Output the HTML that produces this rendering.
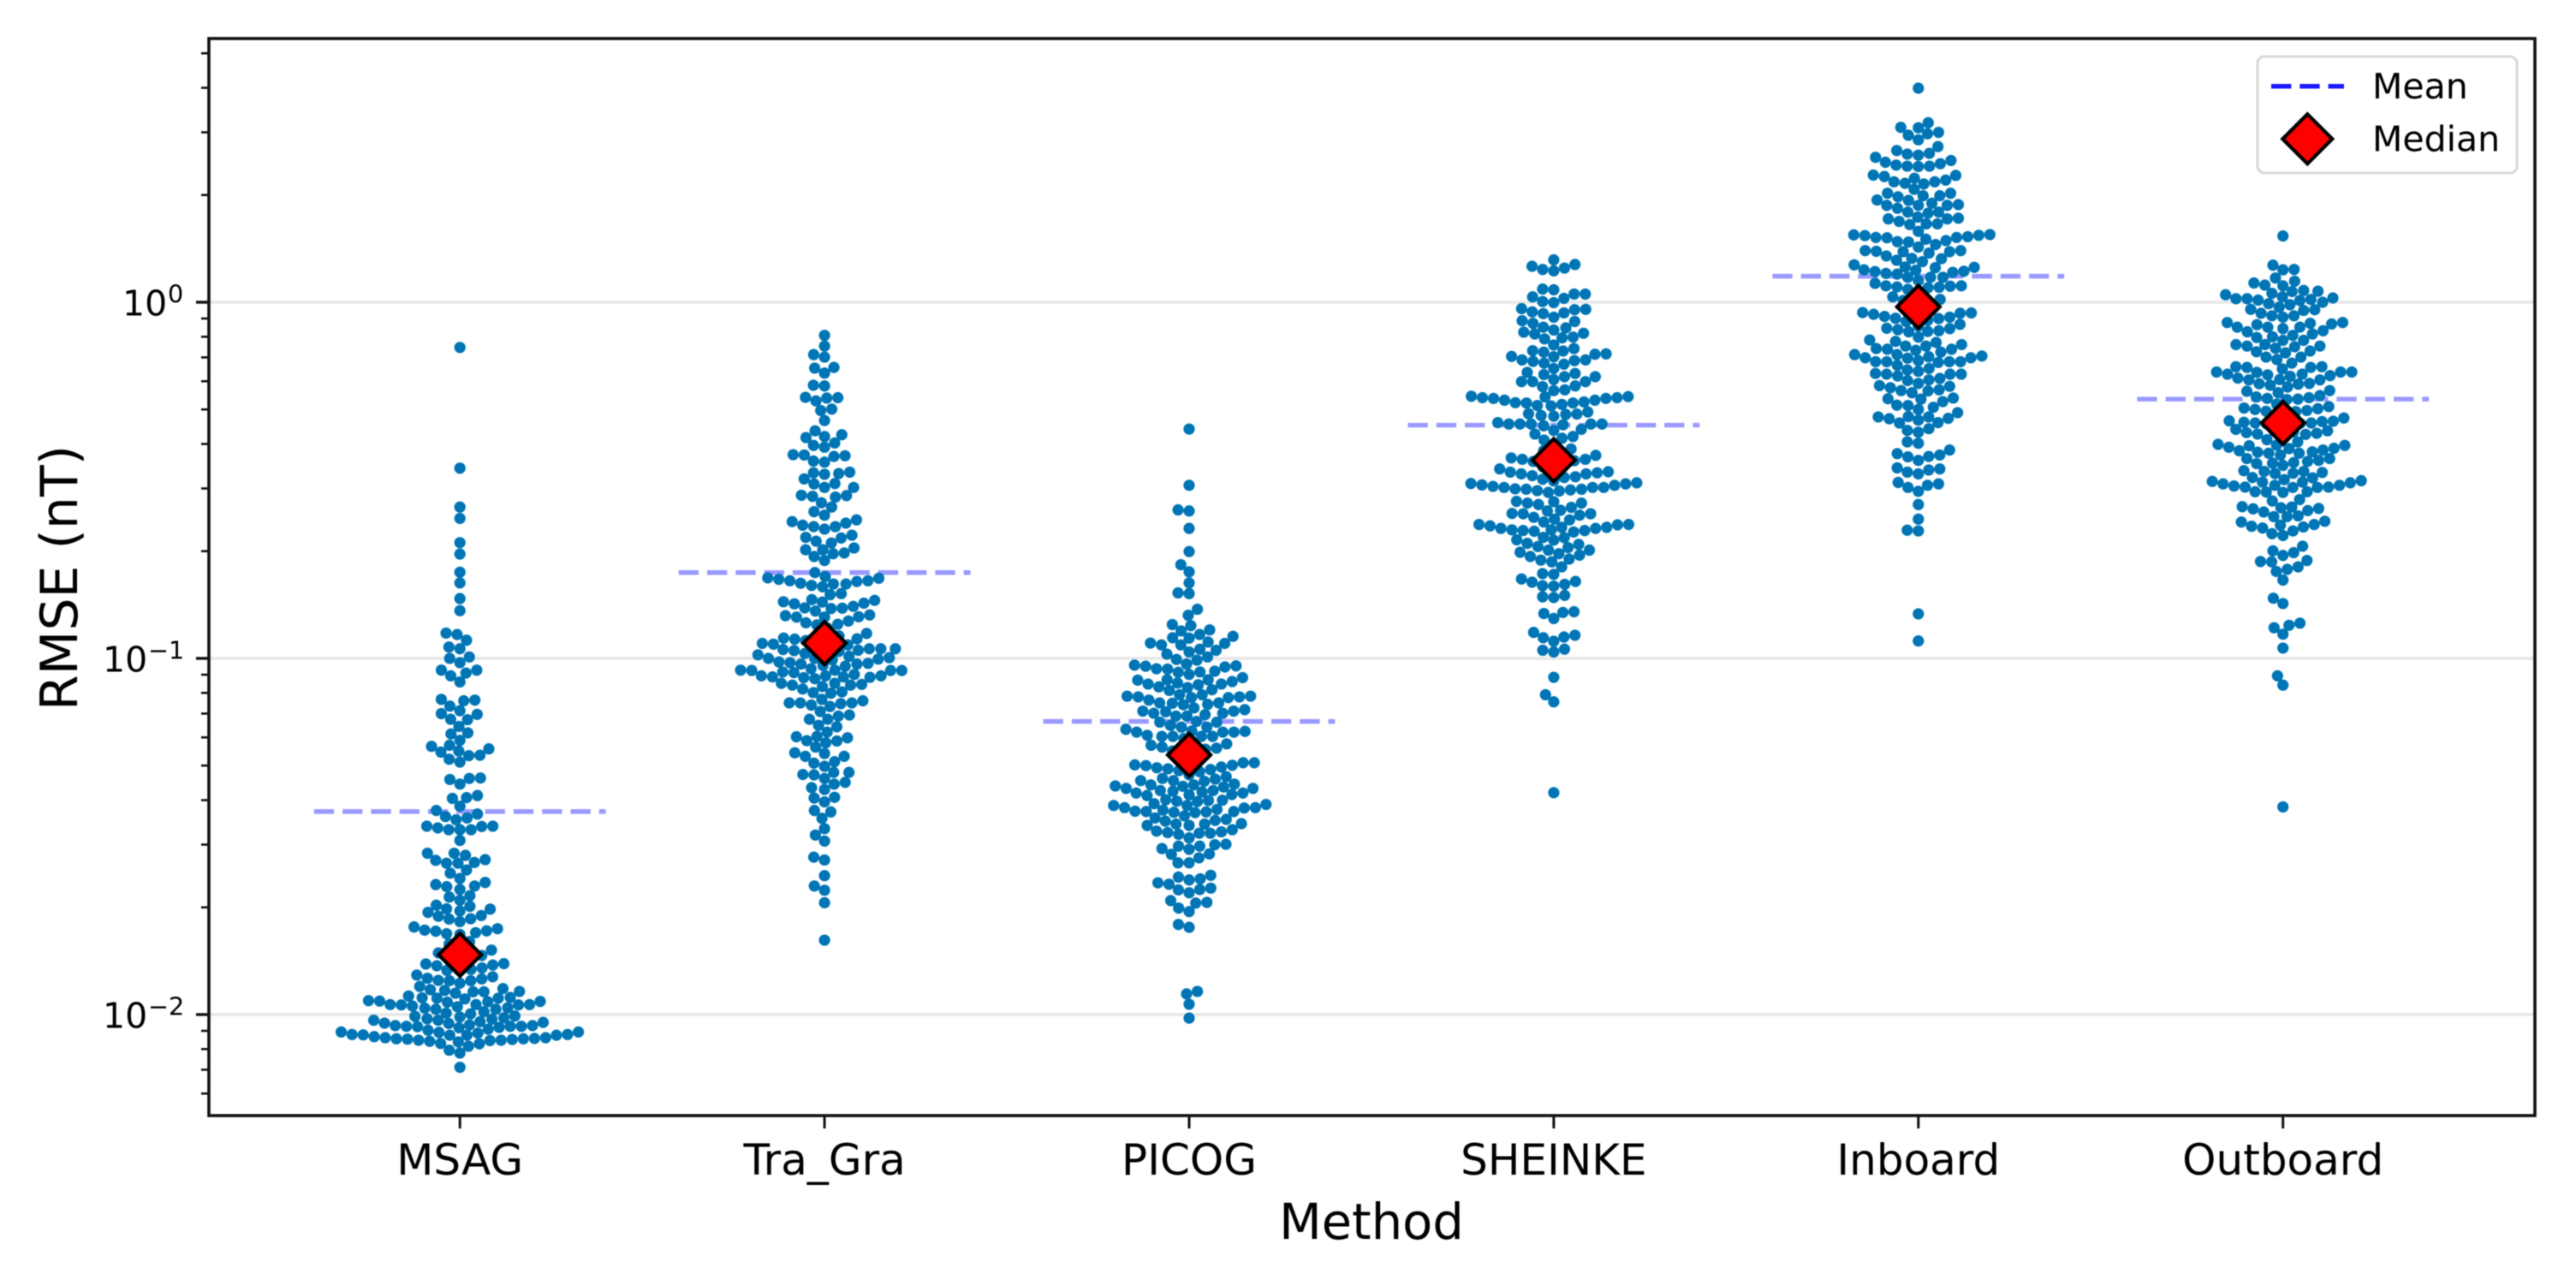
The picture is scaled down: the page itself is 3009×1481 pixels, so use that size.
<!DOCTYPE html>
<html lang="en">
<head>
<meta charset="utf-8">
<title>RMSE by Method swarm plot</title>
<style>
html,body{margin:0;padding:0;background:#fff;overflow:hidden;}
svg{display:block;filter:blur(0.6px);}
text{font-family:"DejaVu Sans","Liberation Sans",sans-serif;fill:#000;}
</style>
</head>
<body>
<svg id="chart" xmlns="http://www.w3.org/2000/svg" width="3009" height="1481" viewBox="0 0 3009 1481">
<rect x="0" y="0" width="3009" height="1481" fill="#fff"/>
<g id="grid"></g>
<g id="means"></g>
<g id="swarms"></g>
<g id="medians"></g>
<rect x="244" y="45" width="2717" height="1258" fill="none" stroke="#111" stroke-width="3.6"/>
<g id="yticks"></g>
<g id="xticks"></g>
<text x="1602" y="1447" font-size="57.5" text-anchor="middle">Method</text>
<text transform="translate(90 675) rotate(-90)" font-size="60" text-anchor="middle">RMSE (nT)</text>
<g>
<rect x="2637" y="66" width="303" height="136" rx="8" ry="8" fill="#fff" fill-opacity="0.8" stroke="#d8d8d8" stroke-width="3"/>
<line x1="2653" y1="100.7" x2="2738" y2="100.7" stroke="#1a1aff" stroke-width="5.5" stroke-dasharray="23.3 10"/>
<text x="2771" y="115" font-size="41">Mean</text>
<path d="M2695.3 133.3 L2724.3 162.3 L2695.3 191.3 L2666.3 162.3 Z" fill="#ff0000" stroke="#000" stroke-width="4.2" stroke-linejoin="miter"/>
<text x="2771" y="176.7" font-size="41">Median</text>
</g>
</svg>
<script>
// All series are log10(RMSE in nT).
const methods = ["MSAG", "Tra_Gra", "PICOG", "SHEINKE", "Inboard", "Outboard"];
const yMajorExponents = [0, -1, -2];
const yMinorMultipliers = [2, 3, 4, 5, 6, 7, 8, 9];
const meanLog10 = [-1.430, -0.759, -1.177, -0.345, 0.073, -0.272];
const medianLog10 = [-1.832, -0.957, -1.271, -0.4435, -0.013, -0.339];

const msagLog10 = [-0.127,-0.466,-0.575,-0.607,-0.675,-0.707,-0.758,-0.788,-0.832,-0.866,-0.929,-0.933,-0.949,-0.968,-0.973,-0.996,-1.000,-1.012,
-1.033,-1.033,-1.041,-1.049,-1.066,-1.115,-1.119,-1.117,-1.134,-1.147,-1.155,-1.157,-1.171,-1.172,-1.191,-1.212,-1.209,-1.230,-1.244,-1.247,-1.254,-1.260,-1.263,-1.272,-1.273,-1.283,-1.291,
-1.336,-1.337,-1.340,-1.353,-1.393,-1.391,-1.385,-1.415,-1.427,-1.437,-1.448,-1.444,-1.453,-1.471,-1.472,-1.481,-1.481,-1.481,-1.476,-1.471,-1.511,
-1.547,-1.547,-1.553,-1.567,-1.575,-1.575,-1.573,-1.565,-1.594,-1.603,-1.618,-1.629,-1.635,-1.641,-1.639,-1.649,-1.666,-1.670,-1.679,-1.693,-1.696,
-1.703,-1.704,-1.709,-1.722,-1.713,-1.724,-1.732,-1.731,-1.739,-1.754,-1.763,-1.766,-1.770,-1.759,-1.765,-1.773,-1.775,-1.802,-1.819,-1.835,-1.835,-1.834,
-1.857,-1.861,-1.858,-1.863,-1.869,-1.873,-1.876,-1.876,-1.795,-1.810,-1.827,-1.843,
-1.894,-1.889,-1.898,-1.900,-1.904,-1.905,-1.905,-1.912,-1.921,-1.932,-1.930,-1.927,-1.936,-1.936,-1.935,-1.940,-1.948,-1.954,-1.954,-1.952,-1.953,-1.956,-1.962,-1.961,-1.963,-1.964,-1.965,
-1.972,-1.972,-1.976,-1.973,-1.973,-1.972,-1.978,-1.981,-1.982,-1.985,-1.985,-1.996,-1.998,-1.992,-2.005,-2.004,-2.007,-2.009,-2.012,-2.013,-2.016,-2.016,-2.024,-2.020,-2.022,-2.025,
-2.031,-2.029,-2.033,-2.033,-2.034,-2.033,-2.036,-2.031,-2.037,-2.044,-2.041,-2.050,-2.052,-2.049,-2.049,-2.056,-2.056,-2.058,-2.058,-2.058,-2.057,-2.062,-2.065,-2.065,-2.067,-2.068,-2.068,
-2.070,-2.072,-2.072,-2.073,-2.069,-2.075,-2.081,-2.077,-2.082,-2.089,-2.100,-2.108,-2.148];

const traGraLog10 = [-0.093,-0.123,-0.147,-0.154,-0.185,-0.183,-0.199,-0.233,-0.235,-0.267,-0.269,-0.268,-0.277,-0.304,-0.300,-0.332,-0.361,-0.372,-0.377,-0.380,-0.395,-0.407,-0.402,
-0.428,-0.429,-0.433,-0.431,-0.446,-0.449,-0.477,-0.481,-0.483,-0.479,-0.496,-0.509,-0.510,-0.520,-0.520,-0.542,-0.545,-0.547,-0.543,-0.563,-0.575,-0.588,-0.598,
-0.616,-0.626,-0.630,-0.637,-0.630,-0.620,-0.611,-0.660,-0.654,-0.662,-0.671,-0.676,-0.695,-0.695,-0.690,-0.714,-0.706,-0.704,-0.725,-0.759,-0.770,
-0.778,-0.782,-0.789,-0.791,-0.799,-0.774,-0.775,-0.782,-0.784,-0.791,-0.795,-0.821,-0.818,-0.841,-0.854,-0.860,-0.845,-0.858,-0.847,-0.837,-0.842,-0.835,-0.859,-0.867,
-0.883,-0.884,-0.878,-0.880,-0.884,-0.900,-0.906,-0.895,-0.904,
-0.937,-0.941,-0.946,-0.943,-0.958,-0.958,-0.962,-0.965,-0.950,-0.973,-0.973,-0.973,-0.977,-0.978,-0.986,-0.982,-0.980,-0.994,-1.000,-0.998,-1.004,-1.010,-1.016,-1.016,-1.014,-1.020,-1.022,-1.002,
-0.915,-0.930,-0.945,-0.960,-0.975,-0.990,-1.000,-1.012,
-1.033,-1.033,-1.034,-1.034,-1.034,-1.038,-1.029,-1.040,-1.045,-1.049,-1.049,-1.049,-1.052,-1.052,-1.054,-1.057,-1.053,-1.073,-1.075,-1.075,-1.070,-1.079,-1.070,-1.086,-1.094,-1.098,-1.096,
-1.115,-1.125,-1.125,-1.125,-1.131,-1.135,-1.127,-1.119,-1.149,-1.159,-1.162,-1.171,-1.171,-1.188,-1.192,-1.207,-1.220,-1.231,-1.237,-1.232,-1.223,-1.219,-1.249,-1.265,-1.267,-1.275,-1.275,
-1.294,-1.290,-1.303,-1.326,-1.327,-1.320,-1.320,-1.337,-1.353,-1.348,-1.363,-1.368,-1.392,-1.390,-1.403,-1.427,-1.431,-1.449,-1.478,-1.496,-1.513,-1.558,-1.566,-1.610,-1.639,-1.651,-1.686,-1.791];

const picogLog10 = [-0.356,-0.514,-0.583,-0.586,-0.635,-0.700,-0.737,-0.757,-0.788,-0.816,-0.818,-0.862,-0.879,-0.905,-0.908,-0.920,-0.923,-0.933,-0.938,-0.943,-0.942,-0.954,-0.962,-0.962,-0.957,-0.958,
-0.974,-0.977,-0.982,-0.988,-0.996,-1.003,-1.005,-1.016,-1.022,-1.021,-1.030,-1.036,-1.039,-1.024,-1.019,-1.029,-1.038,-1.045,-1.054,-1.061,-1.060,-1.065,-1.060,-1.072,-1.069,-1.072,-1.074,-1.080,-1.082,-1.088,-1.090,
-1.102,-1.108,-1.102,-1.110,-1.106,-1.106,-1.108,-1.110,-1.117,-1.125,-1.125,-1.126,-1.130,-1.129,-1.139,-1.148,-1.148,-1.144,-1.150,-1.154,-1.154,-1.158,-1.162,-1.162,
-1.177,-1.179,-1.179,-1.188,-1.193,-1.193,-1.199,-1.205,-1.207,-1.207,-1.207,-1.219,-1.219,-1.219,-1.219,-1.216,-1.204,-1.240,-1.249,-1.260,-1.260,-1.244,-1.252,
-1.225,-1.240,-1.255,-1.270,-1.285,-1.300,-1.310,
-1.293,-1.293,-1.299,-1.307,-1.312,-1.294,-1.301,-1.305,-1.315,-1.318,-1.327,-1.332,-1.343,-1.343,-1.337,-1.339,-1.345,-1.353,-1.355,-1.355,-1.359,-1.358,-1.365,-1.365,-1.361,-1.371,-1.371,-1.373,-1.375,-1.378,-1.378,-1.383,-1.382,-1.385,
-1.397,-1.401,-1.398,-1.399,-1.402,-1.408,-1.410,-1.419,-1.419,-1.420,-1.413,-1.413,-1.424,-1.426,-1.429,-1.430,-1.430,-1.431,-1.432,-1.433,-1.442,-1.448,-1.455,-1.457,-1.452,-1.464,-1.465,-1.465,-1.469,-1.469,
-1.481,-1.485,-1.489,-1.487,-1.491,-1.491,-1.494,-1.504,-1.522,-1.523,-1.527,-1.527,-1.534,-1.536,-1.550,-1.549,-1.560,-1.574,-1.574,-1.609,-1.614,-1.619,-1.622,-1.630,-1.634,-1.645,-1.649,-1.650,-1.658,-1.680,-1.685,-1.687,-1.701,-1.711,-1.747,-1.755,-1.935,-1.942,-1.971,-2.010];

const sheinkeLog10 = [0.119,0.101,0.106,0.092,0.096,0.088,0.037,0.035,0.015,0.023,0.023,0.011,0.002,-0.001,-0.020,-0.021,-0.018,-0.027,-0.032,-0.030,-0.042,-0.052,-0.054,-0.059,-0.070,-0.072,-0.078,-0.087,-0.084,-0.089,-0.098,-0.100,-0.103,-0.120,
-0.130,-0.137,-0.136,-0.140,-0.145,-0.146,-0.153,-0.152,-0.162,-0.162,-0.166,-0.164,-0.171,-0.174,-0.186,-0.197,-0.203,-0.200,-0.209,-0.209,-0.217,-0.223,-0.223,-0.223,-0.237,-0.235,-0.246,-0.248,
-0.265,-0.268,-0.270,-0.264,-0.266,-0.268,-0.270,-0.275,-0.275,-0.280,-0.283,-0.283,-0.282,-0.287,-0.290,-0.291,-0.308,-0.314,-0.318,-0.320,-0.315,-0.313,
-0.338,-0.342,-0.342,-0.342,-0.342,-0.342,-0.344,-0.347,-0.357,-0.360,-0.370,-0.377,-0.382,-0.387,-0.417,-0.425,-0.437,-0.441,-0.441,-0.439,-0.445,-0.456,-0.468,-0.468,-0.476,-0.479,-0.482,-0.482,-0.487,-0.490,-0.497,
-0.402,-0.412,-0.430,-0.447,-0.462,-0.477,-0.492,
-0.502,-0.507,-0.509,-0.510,-0.513,-0.514,-0.517,-0.520,-0.520,-0.520,-0.524,-0.525,-0.525,-0.527,-0.529,-0.530,-0.534,
-0.560,-0.559,-0.564,-0.564,-0.568,-0.576,-0.584,-0.586,-0.593,-0.594,-0.594,-0.598,-0.604,-0.609,-0.611,-0.617,-0.625,-0.624,-0.624,-0.628,-0.632,-0.632,-0.635,-0.635,-0.639,-0.639,-0.641,-0.641,-0.643,-0.645,
-0.660,-0.661,-0.667,-0.668,-0.677,-0.680,-0.686,-0.689,-0.696,-0.696,-0.702,-0.706,-0.710,-0.714,-0.721,-0.724,-0.729,-0.743,-0.762,-0.764,-0.777,-0.784,-0.786,-0.792,-0.796,-0.797,-0.827,-0.829,-0.823,
-0.874,-0.871,-0.869,-0.888,-0.927,-0.935,-0.940,-0.942,-0.952,-0.974,-0.977,-0.982,-1.053,-1.102,-1.122,-1.377];

const inboardLog10 = [0.601,0.504,0.490,0.491,0.477,0.473,0.469,0.456,0.437,0.426,0.418,0.416,0.413,0.407,0.398,0.393,0.389,0.385,0.382,0.382,0.381,0.357,0.353,0.356,0.348,0.343,0.338,0.338,0.334,0.332,0.317,0.306,0.306,
0.299,0.299,0.296,0.287,0.286,0.278,0.272,0.272,0.272,0.274,0.264,0.253,0.253,0.250,0.234,0.234,0.236,0.239,0.227,0.220,0.220,0.218,0.199,
0.189,0.190,0.187,0.188,0.182,0.182,0.184,0.177,0.181,0.170,0.173,0.169,0.162,0.155,0.142,0.142,0.143,0.145,0.145,0.138,0.130,0.123,0.122,0.118,0.114,0.105,0.099,0.098,0.097,0.091,0.090,0.086,0.087,0.084,0.081,0.079,0.070,0.070,0.070,0.061,
0.053,0.045,0.046,0.046,0.043,0.042,0.036,0.008,0.001,
0.041,0.026,0.015,0.005,-0.005,-0.021,-0.036,-0.051,
-0.029,-0.030,-0.031,-0.034,-0.040,-0.042,-0.045,-0.046,-0.054,-0.062,-0.067,-0.073,-0.074,-0.080,-0.077,-0.083,-0.082,-0.098,
-0.106,-0.110,-0.113,-0.119,-0.123,-0.123,-0.130,-0.132,-0.132,-0.135,-0.140,-0.147,-0.147,-0.151,-0.153,-0.157,-0.156,-0.156,-0.164,-0.167,-0.167,-0.167,-0.167,-0.169,-0.177,-0.186,-0.190,-0.194,-0.200,-0.202,-0.202,-0.202,-0.207,-0.214,-0.218,-0.220,-0.228,-0.234,-0.236,-0.240,-0.246,-0.249,-0.248,-0.254,-0.272,-0.271,-0.279,-0.269,-0.290,-0.289,-0.295,-0.301,-0.310,
-0.322,-0.322,-0.321,-0.326,-0.331,-0.327,-0.339,-0.338,-0.355,-0.360,-0.365,-0.396,-0.392,-0.415,-0.429,-0.425,-0.433,-0.434,-0.444,-0.468,-0.465,-0.471,-0.477,-0.482,-0.506,-0.510,-0.514,-0.520,-0.531,-0.568,-0.609,-0.640,-0.642,-0.875,-0.951];

const outboardLog10 = [0.186,0.104,0.092,0.091,0.068,0.059,0.054,0.048,0.046,0.033,0.030,0.031,0.025,0.021,0.015,0.012,0.010,0.010,0.006,0.008,0.005,0.000,-0.007,-0.004,-0.014,-0.021,-0.020,-0.023,-0.031,-0.038,-0.038,-0.042,
-0.057,-0.057,-0.059,-0.061,-0.063,-0.070,-0.070,-0.070,-0.074,-0.080,-0.083,-0.089,-0.093,-0.097,-0.099,-0.107,-0.107,-0.119,-0.119,-0.123,-0.123,-0.125,-0.129,-0.137,-0.139,-0.142,-0.154,-0.154,-0.161,-0.171,
-0.181,-0.181,-0.183,-0.183,-0.187,-0.196,-0.196,-0.196,-0.197,-0.202,-0.202,-0.208,-0.204,-0.206,-0.213,-0.217,-0.218,-0.218,-0.228,-0.229,-0.230,-0.233,-0.238,-0.248,-0.250,-0.254,-0.262,-0.268,-0.266,-0.270,-0.272,-0.273,
-0.293,-0.299,-0.304,-0.297,-0.301,-0.306,-0.307,-0.325,-0.339,-0.341,-0.334,-0.340,-0.333,-0.335,-0.339,-0.337,-0.357,-0.361,-0.362,-0.368,-0.371,-0.364,-0.366,-0.378,
-0.286,-0.307,-0.323,-0.344,-0.370,-0.386,
-0.402,-0.401,-0.403,-0.410,-0.399,-0.411,-0.392,-0.407,-0.417,-0.420,-0.415,-0.424,-0.424,-0.421,-0.429,-0.439,-0.439,-0.447,-0.444,-0.450,-0.452,-0.453,-0.458,-0.473,-0.475,-0.475,-0.481,-0.478,-0.480,-0.493,-0.492,
-0.498,-0.501,-0.505,-0.505,-0.503,-0.507,-0.514,-0.514,-0.510,-0.516,-0.519,-0.519,-0.520,-0.520,-0.532,-0.532,-0.533,-0.534,-0.554,-0.558,-0.575,-0.574,-0.580,-0.577,-0.585,-0.579,-0.589,-0.602,-0.602,-0.600,-0.615,-0.617,-0.629,-0.624,-0.626,-0.631,-0.634,-0.642,-0.650,-0.655,-0.685,
-0.703,-0.698,-0.711,-0.725,-0.728,-0.729,-0.743,-0.750,-0.756,-0.780,-0.831,-0.846,-0.901,-0.907,-0.914,-0.932,-0.971,-1.049,-1.075,-1.417];

const seriesLog10 = [msagLog10, traGraLog10, picogLog10, sheinkeLog10, inboardLog10, outboardLog10];

const NS = "http://www.w3.org/2000/svg";
const PLOT_LEFT = 244, PLOT_RIGHT = 2961, PLOT_TOP = 45, PLOT_BOTTOM = 1303;
const X_MIN = -0.6885, X_MAX = 5.6910;
const Y_MIN = -2.2837, Y_MAX = 0.7404;
const DOT_RADIUS = 6.6, SWARM_DIAMETER = 12.4;

function xScale(i) {
  return PLOT_LEFT + (i - X_MIN) / (X_MAX - X_MIN) * (PLOT_RIGHT - PLOT_LEFT);
}
function yScale(log10Value) {
  return PLOT_BOTTOM - (log10Value - Y_MIN) / (Y_MAX - Y_MIN) * (PLOT_BOTTOM - PLOT_TOP);
}
function make(tag, attrs, parent) {
  const el = document.createElementNS(NS, tag);
  for (const k in attrs) el.setAttribute(k, attrs[k]);
  parent.appendChild(el);
  return el;
}

// seaborn-style beeswarm: bottom-up, each point takes the free candidate nearest the midline.
function beeswarm(midline, values) {
  const ys = values.map(yScale).sort(function (a, b) { return b - a; });
  const placed = [];
  ys.forEach(function (y) {
    const neighbors = placed.filter(function (p) { return Math.abs(p.y - y) < SWARM_DIAMETER; });
    const candidates = [midline];
    neighbors.forEach(function (n) {
      const dy = n.y - y;
      const dx = Math.sqrt(SWARM_DIAMETER * SWARM_DIAMETER - dy * dy) * 1.05;
      candidates.push(n.x - dx, n.x + dx);
    });
    const ordered = candidates.map(function (c, idx) { return { c: c, idx: idx }; })
      .sort(function (a, b) {
        const d = Math.abs(a.c - midline) - Math.abs(b.c - midline);
        return Math.abs(d) > 1e-9 ? d : a.idx - b.idx;
      });
    let x = midline;
    for (let k = 0; k < ordered.length; k++) {
      const cx = ordered[k].c;
      const free = neighbors.every(function (n) {
        const ddx = n.x - cx, ddy = n.y - y;
        return ddx * ddx + ddy * ddy >= SWARM_DIAMETER * SWARM_DIAMETER - 1e-6;
      });
      if (free) { x = cx; break; }
    }
    placed.push({ x: x, y: y });
  });
  return placed;
}

const gridGroup = document.getElementById("grid");
const meanGroup = document.getElementById("means");
const swarmGroup = document.getElementById("swarms");
const medianGroup = document.getElementById("medians");
const yTickGroup = document.getElementById("yticks");
const xTickGroup = document.getElementById("xticks");

yMajorExponents.forEach(function (exp) {
  const y = yScale(exp);
  const grid = make("line", { x1: PLOT_LEFT, x2: PLOT_RIGHT, y1: y, y2: y, stroke: "#e8e8e8", "stroke-width": 3.8 }, gridGroup);
  
  
  const tick = make("line", { x1: PLOT_LEFT - 15, x2: PLOT_LEFT, y1: y, y2: y, stroke: "#111", "stroke-width": 3.4 }, yTickGroup);
  
  
  const sup = exp === 0 ? "0" : "\u2212" + Math.abs(exp);
  const baseX = exp === 0 ? 143 : 120;
  const base = make("text", { x: baseX, y: y + 15.7, "font-size": 41 }, yTickGroup);
  base.textContent = "10";
  
  
  const power = make("text", { x: baseX + 53, y: y + 0.5, "font-size": 28.7 }, yTickGroup);
  power.textContent = sup;
  
  
});

for (let decade = -3; decade <= 0; decade++) {
  yMinorMultipliers.forEach(function (m) {
    const v = decade + Math.log10(m);
    if (v < Y_MIN || v > Y_MAX) return;
    const y = yScale(v);
    const minor = make("line", { x1: PLOT_LEFT - 9, x2: PLOT_LEFT, y1: y, y2: y, stroke: "#111", "stroke-width": 2.6 }, yTickGroup);
    
    
  });
}

methods.forEach(function (name, i) {
  const cx = xScale(i);

  const tick = make("line", { x1: cx, x2: cx, y1: PLOT_BOTTOM, y2: PLOT_BOTTOM + 15, stroke: "#111", "stroke-width": 3 }, xTickGroup);
  
  
  const label = make("text", { x: cx, y: 1372, "font-size": 50, "text-anchor": "middle" }, xTickGroup);
  label.textContent = name;
  
  

  const my = yScale(meanLog10[i]);
  const mean = make("line", { x1: cx - 170.4, x2: cx + 170.4, y1: my, y2: my, stroke: "#9999ff", "stroke-width": 5.4, "stroke-dasharray": "23.3 10" }, meanGroup);
  
  

  beeswarm(cx, seriesLog10[i]).forEach(function (p) {
    const dot = make("circle", { cx: p.x, cy: p.y, r: DOT_RADIUS, fill: "#0075b5" }, swarmGroup);
    
    
  });

  const dy = yScale(medianLog10[i]);
  const h = 25;
  const diamond = make("path", {
    d: "M" + cx + " " + (dy - h) + " L" + (cx + h) + " " + dy + " L" + cx + " " + (dy + h) + " L" + (cx - h) + " " + dy + " Z",
    fill: "#ff0000", stroke: "#000", "stroke-width": 4.2
  }, medianGroup);
  
  
});
</script>
</body>
</html>
